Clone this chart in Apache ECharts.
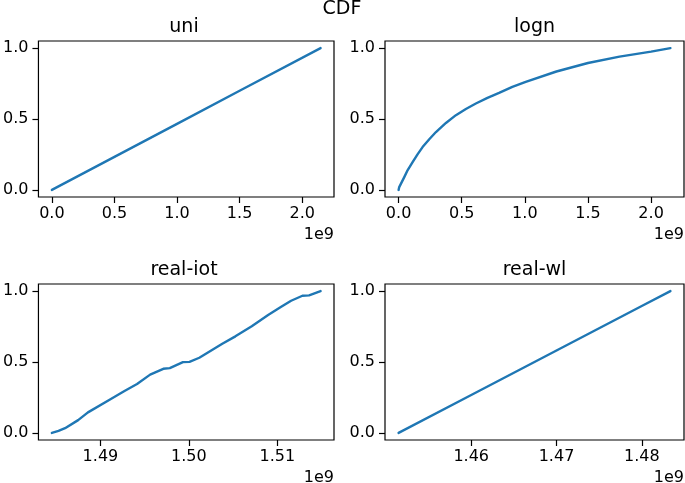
<!DOCTYPE html>
<html>
<head>
<meta charset="utf-8">
<script src="https://cdn.jsdelivr.net/npm/echarts@6/dist/echarts.min.js"></script>
<style>
html,body{margin:0;padding:0;background:#fff;}
#chart{width:685px;height:483px;}
</style>
</head>
<body>
<div id="chart"></div>
<script>
// ---- data ----
const uniX = [0, 0.5e9, 1.0e9, 1.5e9, 2.147e9];
const uniY = [0, 0.233, 0.466, 0.699, 1.0];

const lognX = [0, 0.005e9, 0.019e9, 0.045e9, 0.071e9, 0.111e9, 0.150e9, 0.190e9, 0.243e9, 0.296e9, 0.375e9, 0.454e9, 0.533e9, 0.612e9, 0.704e9, 0.796e9, 0.901e9, 1.007e9, 1.25e9, 1.5e9, 1.75e9, 2.0e9, 2.153e9];
const lognY = [0, 0.02, 0.044, 0.09, 0.138, 0.196, 0.251, 0.302, 0.357, 0.408, 0.472, 0.527, 0.571, 0.609, 0.649, 0.684, 0.727, 0.762, 0.835, 0.895, 0.94, 0.975, 1.0];

const iotX = [1.48451e9, 1.48526e9, 1.48600e9, 1.48748e9, 1.48859e9, 1.49118e9, 1.49267e9, 1.49414e9, 1.49562e9, 1.49711e9, 1.49784e9, 1.49933e9, 1.50007e9, 1.50118e9, 1.50378e9, 1.50526e9, 1.50711e9, 1.50896e9, 1.51044e9, 1.51156e9, 1.51284e9, 1.51359e9, 1.51489e9];
const iotY = [0, 0.014, 0.033, 0.090, 0.145, 0.239, 0.294, 0.345, 0.411, 0.452, 0.457, 0.499, 0.501, 0.530, 0.629, 0.681, 0.752, 0.831, 0.889, 0.932, 0.967, 0.970, 1.0];

const wlX = [1.45148e9, 1.46e9, 1.47e9, 1.48e9, 1.48336e9];
const wlY = [0, 0.267, 0.581, 0.895, 1.0];

// ---- tick values and labels ----
const yTicks = [0, 0.5, 1.0];
const yTickLabels = ['0.0', '0.5', '1.0'];
const xTicksTop = [0, 0.5e9, 1.0e9, 1.5e9, 2.0e9];
const xTickLabelsTop = ['0.0', '0.5', '1.0', '1.5', '2.0'];
const xTicksIot = [1.49e9, 1.50e9, 1.51e9];
const xTickLabelsIot = ['1.49', '1.50', '1.51'];
const xTicksWl = [1.46e9, 1.47e9, 1.48e9];
const xTickLabelsWl = ['1.46', '1.47', '1.48'];

const titles = ['uni', 'logn', 'real-iot', 'real-wl'];
const suptitle = 'CDF';
const offsetText = '1e9';

// ---- layout ----
const FONT = 'DejaVu Sans';
const TICK_FS = 16;
const TITLE_FS = 19;
const grids = [
  {left: 34, top: 41, width: 300, height: 156},
  {left: 385, top: 41, width: 299, height: 156},
  {left: 34, top: 284, width: 300, height: 156},
  {left: 385, top: 284, width: 299, height: 156}
];

function pad(arr) {
  const mn = Math.min(...arr), mx = Math.max(...arr);
  const m = (mx - mn) * 0.05;
  return [mn - m, mx + m];
}
function pairs(xs, ys) { return xs.map((x, i) => [x, ys[i]]); }

const panels = [
  {x: uniX, y: uniY, ticks: xTicksTop, labels: xTickLabelsTop},
  {x: lognX, y: lognY, ticks: xTicksTop, labels: xTickLabelsTop},
  {x: iotX, y: iotY, ticks: xTicksIot, labels: xTickLabelsIot},
  {x: wlX, y: wlY, ticks: xTicksWl, labels: xTickLabelsWl}
];

const axisTextStyle = {color: '#000', fontSize: TICK_FS, fontFamily: FONT};
const tickStyle = {color: '#000', width: 1.2};

const option = {
  animation: false,
  backgroundColor: '#fff',
  grid: grids.map(g => Object.assign({show: true, borderColor: '#000', borderWidth: 1.2, backgroundColor: 'transparent', containLabel: false}, g)),
  xAxis: panels.map((p, i) => {
    const r = pad(p.x);
    return {
      type: 'value', gridIndex: i, min: r[0], max: r[1],
      axisLine: {show: false, onZero: false},
      splitLine: {show: false},
      axisTick: {show: true, length: 6, lineStyle: tickStyle, customValues: p.ticks},
      axisLabel: Object.assign({margin: 9, customValues: p.ticks,
        formatter: v => { const k = p.ticks.findIndex(t => Math.abs(t - v) < 1); return k >= 0 ? p.labels[k] : ''; }}, axisTextStyle)
    };
  }),
  yAxis: panels.map((p, i) => {
    const r = pad(p.y);
    return {
      type: 'value', gridIndex: i, min: r[0], max: r[1],
      axisLine: {show: false, onZero: false},
      splitLine: {show: false},
      axisTick: {show: true, length: 6, lineStyle: tickStyle, customValues: yTicks},
      axisLabel: Object.assign({margin: 10, customValues: yTicks,
        formatter: v => { const k = yTicks.findIndex(t => Math.abs(t - v) < 1e-9); return k >= 0 ? yTickLabels[k] : ''; }}, axisTextStyle)
    };
  }),
  series: panels.map((p, i) => ({
    type: 'line', xAxisIndex: i, yAxisIndex: i,
    data: pairs(p.x, p.y),
    showSymbol: false, smooth: false,
    lineStyle: {color: '#1f77b4', width: 2.4, join: 'round', cap: 'round'},
    itemStyle: {color: '#1f77b4'}
  })),
  graphic: [
    {type: 'text', x: 342, y: 9.5, style: {text: suptitle, fill: '#000', fontSize: TITLE_FS, fontFamily: FONT, align: 'center', verticalAlign: 'middle'}},
  ].concat(grids.map((g, i) => ({
    type: 'text', x: g.left + g.width / 2, y: g.top - 13.5, style: {text: titles[i], fill: '#000', fontSize: TITLE_FS, fontFamily: FONT, align: 'center', verticalAlign: 'middle'}
  }))).concat(grids.map(g => ({
    type: 'text', x: g.left + g.width, y: g.top + g.height + 38, style: {text: offsetText, fill: '#000', fontSize: TICK_FS, fontFamily: FONT, align: 'right', verticalAlign: 'middle'}
  })))
};

const chart = echarts.init(document.getElementById('chart'), null, {renderer: 'canvas'});
chart.setOption(option);
</script>
</body>
</html>
